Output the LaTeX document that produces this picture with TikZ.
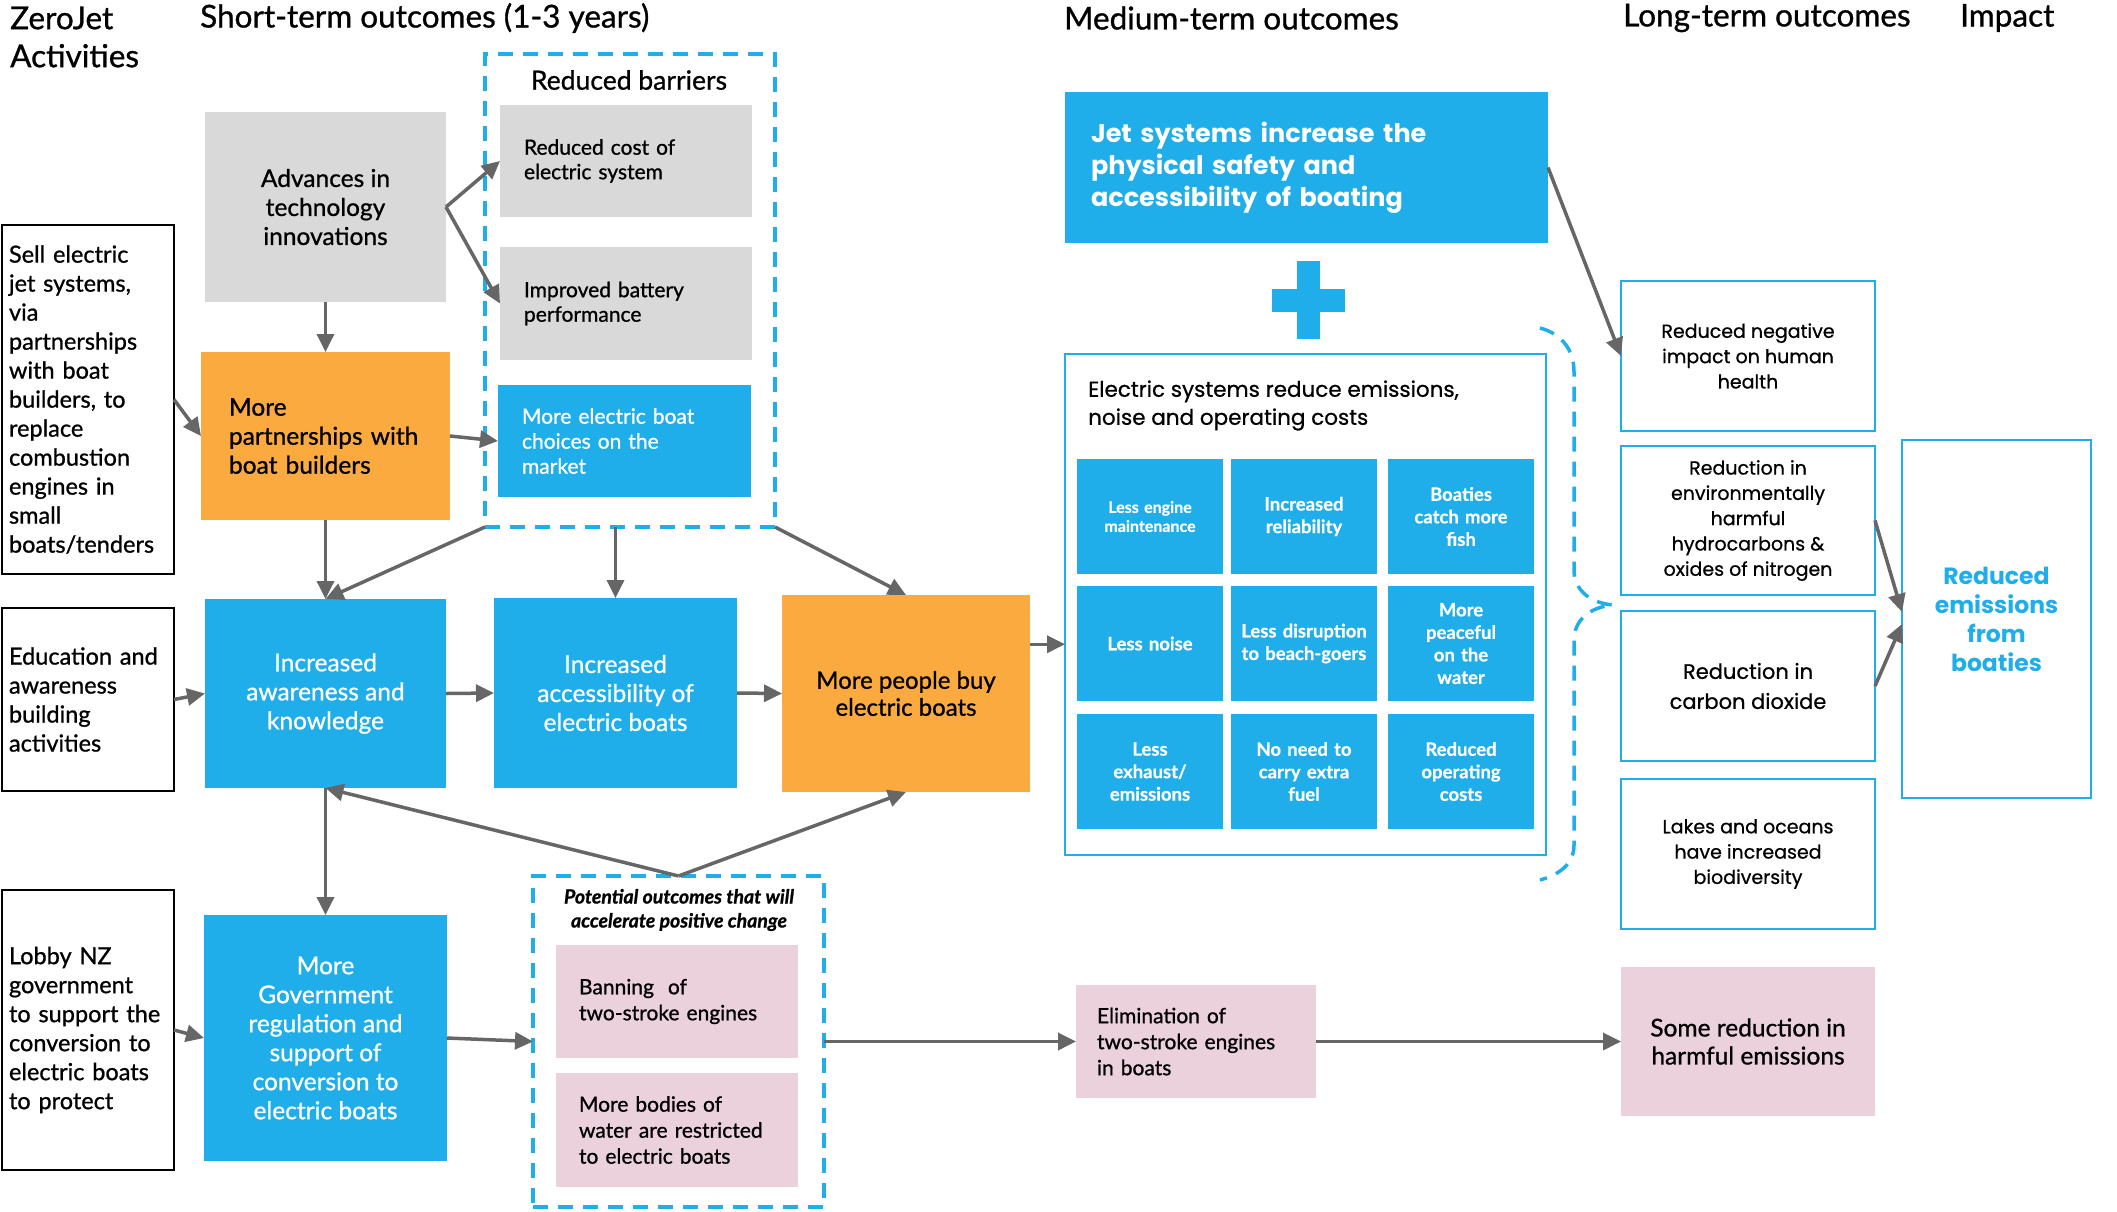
\documentclass[tikz,border=0pt]{standalone}
\usepackage{fontspec}
\setmainfont{Lato}[FakeBold=0.9]
\newfontfamily\latocell{Lato}[FakeBold=0.6]
\newfontfamily\pop{Poppins}[FakeBold=0.7]
\newfontfamily\popb{Poppins}
\usetikzlibrary{arrows.meta,calc}
\definecolor{zblue}{RGB}{31,174,233}
\definecolor{zorange}{RGB}{251,170,64}
\definecolor{zgray}{RGB}{217,217,217}
\definecolor{zpink}{RGB}{234,209,220}
\definecolor{zarrow}{RGB}{102,102,102}
\tikzset{
 box/.style={inner sep=0pt, outer sep=0pt, align=center, font=\fontsize{24.5}{29}\selectfont},
 act/.style={box, draw=black, line width=2.5pt, align=left, font=\fontsize{23.5}{29}\selectfont},
 grayb/.style={box, fill=zgray},
 orb/.style={box, fill=zorange},
 blb/.style={box, fill=zblue, text=white},
 pkb/.style={box, fill=zpink},
 ltb/.style={box, draw=zblue, line width=2.5pt, minimum width=254pt, font=\pop\fontsize{19}{25.3}\selectfont},
 cell/.style={box, fill=zblue, text=white, minimum width=146pt, minimum height=115pt, text width=142pt, font=\latocell\bfseries\fontsize{18.5}{22.5}\selectfont},
 dbox/.style={draw=zblue, line width=3.5pt, dash pattern=on 15pt off 10pt, inner sep=0pt, outer sep=0pt},
 arr/.style={draw=zarrow, line width=3.5pt, -{Triangle[length=18pt,width=17pt]}},
 head/.style={anchor=west, inner sep=0pt, align=left, font=\fontsize{31.5}{38}\selectfont}
}
\begin{document}
\begin{tikzpicture}[x=1pt,y=-1pt]
\useasboundingbox (0,0) rectangle (2117,1211);
% headings
\node[head] (h1) at (10,37) {ZeroJet\\Activities};
\node[head] (h2) at (200,18) {Short-term outcomes (1-3 years)};
\node[head] (h3) at (1064,18) {Medium-term outcomes};
\node[head] (h4) at (1623,18) {Long-term outcomes};
\node[head] (h5) at (1960,18) {Impact};
% activities
\node[act, minimum width=172pt, minimum height=349pt, text width=158pt] (sell) at (88,399.5) {Sell electric\\jet systems,\\via\\partnerships\\with boat\\builders, to\\replace\\combustion\\engines in\\small\\boats/tenders};
\node[act, minimum width=172pt, minimum height=183pt, text width=158pt] (edu) at (88,699.5) {Education and\\awareness\\building\\activities};
\node[act, minimum width=172pt, minimum height=280pt, text width=158pt] (lobby) at (88,1030) {Lobby NZ\\government\\to support the\\conversion to\\electric boats\\to protect};
% short-term
\node[grayb, minimum width=241pt, minimum height=190pt] (adv) at (325.5,207) {Advances in\\technology\\innovations};
\node[orb, minimum width=249pt, minimum height=168pt, text width=193pt, align=left] (mp) at (325.5,436) {More\\partnerships with\\boat builders};
\node[dbox, minimum width=290pt, minimum height=473pt] (rb) at (630,290.5) {};
\node[inner sep=0pt, font=\fontsize{26.5}{29}\selectfont] (rbl) at (629,80) {Reduced barriers};
\node[grayb, minimum width=252pt, minimum height=112pt, text width=204pt, align=left, font=\fontsize{21}{24.5}\selectfont] (rc) at (626,161) {Reduced cost of\\electric system};
\node[grayb, minimum width=252pt, minimum height=113pt, text width=204pt, align=left, font=\fontsize{21}{24.5}\selectfont] (ib) at (626,303.5) {Improved battery\\performance};
\node[blb, minimum width=253pt, minimum height=112pt, text width=205pt, align=left, font=\fontsize{21}{25}\selectfont] (mec) at (624.5,441) {More electric boat\\choices on the\\market};
\node[blb, minimum width=241pt, minimum height=189pt] (aware) at (325.5,693.5) {Increased\\awareness and\\knowledge};
\node[blb, minimum width=243pt, minimum height=190pt] (acc) at (615.5,693) {Increased\\accessibility of\\electric boats};
\node[orb, minimum width=248pt, minimum height=197pt, font=\fontsize{24}{27}\selectfont] (mpb) at (906,693.5) {More people buy\\electric boats};
\node[blb, minimum width=243pt, minimum height=246pt] (gov) at (325.5,1038) {More\\Government\\regulation and\\support of\\conversion to\\electric boats};
\node[dbox, minimum width=291pt, minimum height=331pt] (pot) at (678.5,1041.5) {};
\node[inner sep=0pt, align=center, font=\bfseries\itshape\fontsize{19.5}{24}\selectfont] (potl) at (679,910) {Potential outcomes that will\\accelerate positive change};
\node[pkb, minimum width=242pt, minimum height=113pt, text width=196pt, align=left, font=\fontsize{21}{26}\selectfont] (ban) at (677,1001.5) {Banning~ of\\two-stroke engines};
\node[pkb, minimum width=242pt, minimum height=114pt, text width=196pt, align=left, font=\fontsize{21}{26}\selectfont] (bod) at (677,1130) {More bodies of\\water are restricted\\to electric boats};
% medium-term
\node[blb, minimum width=483pt, minimum height=151pt, text width=431pt, align=left, font=\popb\bfseries\fontsize{25.5}{32}\selectfont] (jet) at (1306.5,167.5) {Jet systems increase the\\physical safety and\\accessibility of boating};
\fill[zblue] (1297,261) rectangle (1320,339);
\fill[zblue] (1272,289) rectangle (1345,312);
\node[box, draw=zblue, line width=2.5pt, minimum width=481pt, minimum height=501pt] (es) at (1305.5,604.5) {};
\node[anchor=west, inner sep=0pt, align=left, font=\pop\fontsize{21.5}{28}\selectfont] (est) at (1088,405.5) {Electric systems reduce emissions,\\noise and operating costs};
\node[cell, font=\latocell\bfseries\fontsize{16}{19}\selectfont] (c11) at (1150,516.5) {Less engine\\maintenance};
\node[cell] (c12) at (1304,516.5) {Increased\\reliability};
\node[cell] (c13) at (1461,516.5) {Boaties\\catch more\\fish};
\node[cell] (c21) at (1150,643.5) {Less noise};
\node[cell] (c22) at (1304,643.5) {Less disruption\\to beach-goers};
\node[cell] (c23) at (1461,643.5) {More\\peaceful\\on the\\water};
\node[cell] (c31) at (1150,771.5) {Less\\exhaust/\\emissions};
\node[cell] (c32) at (1304,771.5) {No need to\\carry extra\\fuel};
\node[cell] (c33) at (1461,771.5) {Reduced\\operating\\costs};
\node[pkb, minimum width=240pt, minimum height=113pt, text width=198pt, align=left, font=\fontsize{21}{26}\selectfont] (elim) at (1196,1041.5) {Elimination of\\two-stroke engines\\in boats};
\draw[draw=zblue, line width=3.5pt, dash pattern=on 15pt off 10pt] (1540,328) .. controls (1562,334) and (1574,350) .. (1574,372) -- (1574,570) .. controls (1574,590) and (1590,603) .. (1613,605) .. controls (1590,607) and (1574,620) .. (1574,640) -- (1574,845) .. controls (1574,862) and (1562,874) .. (1540,880);
% long-term
\node[ltb, minimum height=150pt] (neg) at (1748,356) {Reduced negative\\impact on human\\health};
\node[ltb, minimum height=149pt] (env) at (1748,520.5) {Reduction in\\environmentally\\harmful\\hydrocarbons \&\\oxides of nitrogen};
\node[ltb, minimum height=150pt, font=\pop\fontsize{21}{30}\selectfont] (co2) at (1748,686) {Reduction in\\carbon dioxide};
\node[ltb, minimum height=150pt] (lakes) at (1748,854) {Lakes and oceans\\have increased\\biodiversity};
\node[pkb, minimum width=254pt, minimum height=149pt, font=\fontsize{24.5}{28}\selectfont] (some) at (1748,1041.5) {Some reduction in\\harmful emissions};
\node[box, draw=zblue, line width=2.5pt, minimum width=189pt, minimum height=358pt, text=zblue, font=\popb\bfseries\fontsize{23.5}{29}\selectfont] (boat) at (1996.5,619) {Reduced\\emissions\\from\\boaties};
% connectors
\draw[arr] (adv.east) -- (rc.west);
\draw[arr] (adv.east) -- (ib.west);
\draw[arr] (adv.south) -- (mp.north);
\draw[arr] (sell.east) -- (mp.west);
\draw[arr] (mp.east) -- (mec.west);
\draw[arr] (mp.south) -- (aware.north);
\draw[arr] (rb.south west) -- (aware.north);
\draw[arr] (acc.north |- rb.south) -- (acc.north);
\draw[arr] (rb.south east) -- (mpb.north);
\draw[arr] (edu.east) -- (aware.west);
\draw[arr] (aware.east) -- (acc.west);
\draw[arr] (acc.east) -- (mpb.west);
\coordinate (m1) at ($(mpb.north east)!0.25!(mpb.south east)$);
\draw[arr] (m1) -- (m1 -| es.west);
\draw[arr] (pot.north) -- (aware.south);
\draw[arr] (pot.north) -- (mpb.south);
\draw[arr] (aware.south) -- (gov.north);
\draw[arr] (lobby.east) -- (gov.west);
\draw[arr] (gov.east) -- (pot.west);
\draw[arr] (pot.east) -- (elim.west);
\draw[arr] (elim.east) -- (some.west);
\draw[arr] (jet.east) -- (neg.west);
\draw[arr] (env.east) -- ([yshift=7pt]boat.west);
\draw[arr] (co2.east) -- ([yshift=-5pt]boat.west);
\end{tikzpicture}
\end{document}
